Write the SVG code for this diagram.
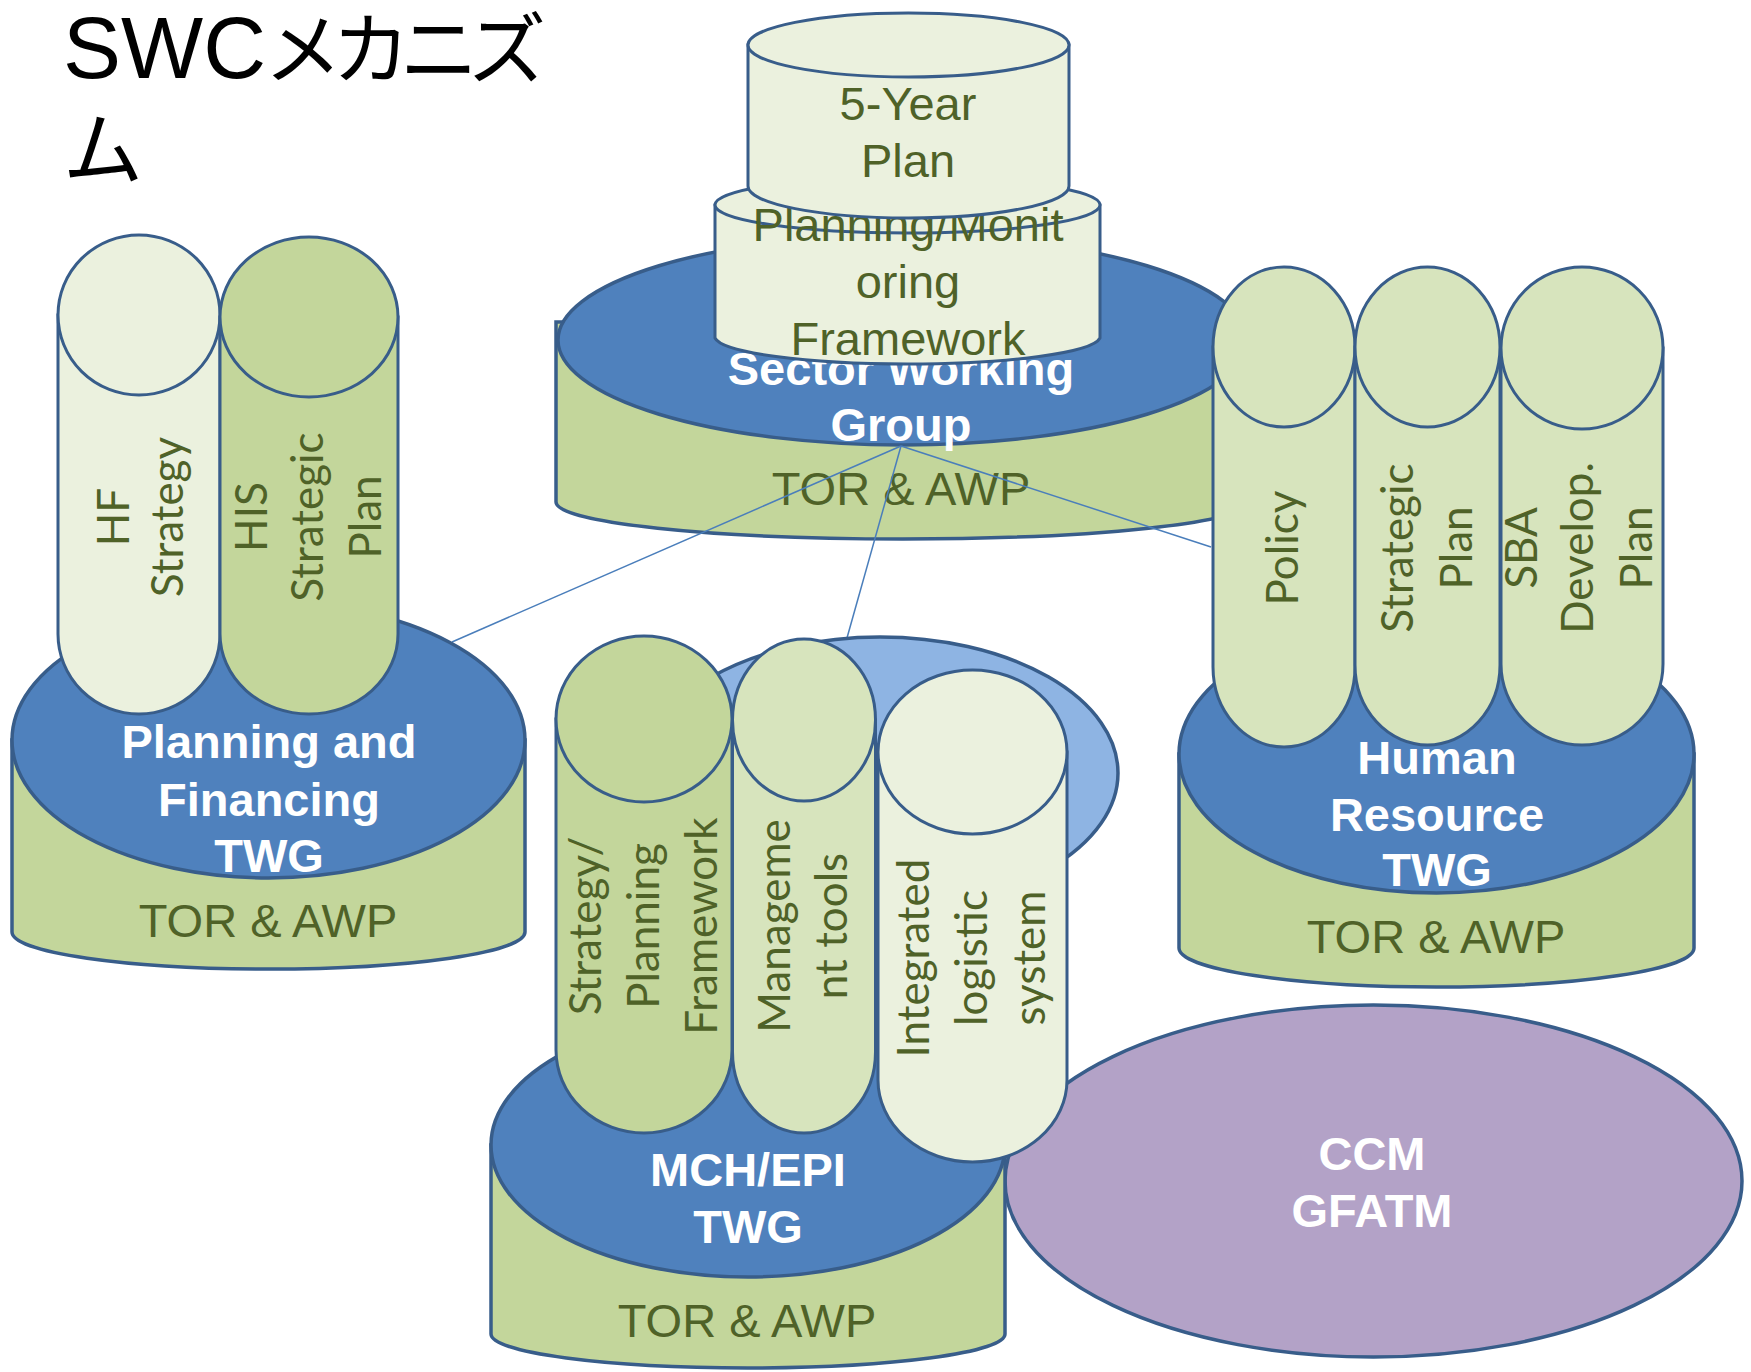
<svg xmlns="http://www.w3.org/2000/svg" width="1751" height="1372" viewBox="0 0 1751 1372">
<style>
.band{fill:#C3D69B;stroke:#385D8A;stroke-width:3.5}
.disk{fill:#4F81BD;stroke:#385D8A;stroke-width:3.5}
.pl{stroke:#385D8A;stroke-width:3}
.c1{fill:#EBF1DE}.c2{fill:#C3D69B}.c3{fill:#D7E4BD}
.wt{font-family:"Liberation Sans",Arial,sans-serif;font-weight:bold;font-size:47px;fill:#FFFFFF;text-anchor:middle}
.gt{font-family:"Liberation Sans",Arial,sans-serif;font-size:47px;fill:#4F6228;text-anchor:middle}
.vt{font-family:Lato,"Open Sans",sans-serif;font-size:44px;fill:#4F6228;text-anchor:middle}
.jp{font-family:"Noto Sans CJK JP",sans-serif;fill:#000}
.conn{stroke:#4A7EBB;stroke-width:1.5;fill:none}
</style>

<g id="title">
<text x="63" y="78" font-family="'Liberation Sans',Arial,sans-serif" font-size="87" fill="#000">SWC</text>
<text class="jp" x="264" y="78" font-size="78" letter-spacing="-10">メカニズ</text>
<text class="jp" x="63" y="178" font-size="80">ム</text>
</g>

<g id="swg">
<path class="band" d="M556,322 L556,502 A347,37 0 0 0 1250,502 L1250,322 Z"/>
<ellipse class="disk" cx="903" cy="340" rx="345" ry="105"/>
<text class="wt" x="901" y="385">Sector Working</text>
<text class="wt" x="901" y="441">Group</text>
<text class="gt" x="901" y="505">TOR &amp; AWP</text>
</g>

<g id="pm-framework">
<path class="pl c1" d="M715,205 L715,338 A193,28 0 0 0 1100,338 L1100,205 Z"/>
<ellipse class="pl c1" cx="907.5" cy="205" rx="192.5" ry="28"/>
<text class="gt" x="908" y="241">Planning/Monit</text>
<text class="gt" x="908" y="298">oring</text>
<text class="gt" x="908" y="355">Framework</text>
</g>

<g id="five-year-plan">
<path class="pl c1" d="M748,45 L748,186 A160.5,32 0 0 0 1069,186 L1069,45 Z"/>
<ellipse class="pl c1" cx="908.5" cy="45" rx="160.5" ry="32"/>
<text class="gt" x="908" y="120">5-Year</text>
<text class="gt" x="908" y="177">Plan</text>
</g>

<g id="connectors">
<line class="conn" x1="901" y1="446" x2="452" y2="642"/>
<line class="conn" x1="901" y1="446" x2="845" y2="645"/>
<line class="conn" x1="901" y1="446" x2="1211" y2="547"/>
</g>

<g id="pf-twg">
<path class="band" d="M12,740 L12,932 A256.5,37 0 0 0 525,932 L525,740 Z"/>
<ellipse class="disk" cx="268.5" cy="740" rx="256.5" ry="138"/>
<g id="hf-strategy">
<path class="pl c1" d="M58,315 L58,634 A81,80 0 0 0 220,634 L220,315 Z"/>
<ellipse class="pl c1" cx="139" cy="315" rx="81" ry="80"/>
<text class="vt" transform="translate(129,517) rotate(-90)">HF</text>
<text class="vt" transform="translate(183,517) rotate(-90)">Strategy</text>
</g>
<g id="his-plan">
<path class="pl c2" d="M220,317 L220,634 A89,80 0 0 0 398,634 L398,317 Z"/>
<ellipse class="pl c2" cx="309" cy="317" rx="89" ry="80"/>
<text class="vt" transform="translate(267,517) rotate(-90)">HIS</text>
<text class="vt" transform="translate(323,517) rotate(-90)">Strategic</text>
<text class="vt" transform="translate(381,517) rotate(-90)">Plan</text>
</g>
<text class="wt" x="269" y="758">Planning and</text>
<text class="wt" x="269" y="816">Financing</text>
<text class="wt" x="269" y="872">TWG</text>
<text class="gt" x="268" y="937">TOR &amp; AWP</text>
</g>

<g id="hr-twg">
<path class="band" d="M1179,754 L1179,948 A257.5,39 0 0 0 1694,948 L1694,754 Z"/>
<ellipse class="disk" cx="1436.5" cy="754" rx="257.5" ry="139"/>
<g id="hr-policy">
<path class="pl c3" d="M1213,347 L1213,667 A71,80 0 0 0 1355,667 L1355,347 Z"/>
<ellipse class="pl c3" cx="1284" cy="347" rx="71" ry="80"/>
<text class="vt" transform="translate(1298,548) rotate(-90)">Policy</text>
</g>
<g id="hr-strategic-plan">
<path class="pl c3" d="M1355,347 L1355,665 A72.5,80 0 0 0 1500,665 L1500,347 Z"/>
<ellipse class="pl c3" cx="1427.5" cy="347" rx="72.5" ry="80"/>
<text class="vt" transform="translate(1413,548) rotate(-90)">Strategic</text>
<text class="vt" transform="translate(1472,548) rotate(-90)">Plan</text>
</g>
<g id="hr-sba-plan">
<path class="pl c3" d="M1501,348 L1501,664 A81,81 0 0 0 1663,664 L1663,348 Z"/>
<ellipse class="pl c3" cx="1582" cy="348" rx="81" ry="81"/>
<text class="vt" transform="translate(1537,548) rotate(-90)">SBA</text>
<text class="vt" transform="translate(1593,548) rotate(-90)">Develop.</text>
<text class="vt" transform="translate(1652,548) rotate(-90)">Plan</text>
</g>
<text class="wt" x="1437" y="774">Human</text>
<text class="wt" x="1437" y="831">Resource</text>
<text class="wt" x="1437" y="886">TWG</text>
<text class="gt" x="1436" y="953">TOR &amp; AWP</text>
</g>

<g id="ccm-gfatm">
<ellipse cx="1373.5" cy="1181" rx="368.5" ry="176" fill="#B3A2C7" stroke="#385D8A" stroke-width="3.5"/>
<text class="wt" x="1372" y="1170">CCM</text>
<text class="wt" x="1372" y="1227">GFATM</text>
</g>

<g id="mch-twg">
<ellipse cx="880" cy="773" rx="238" ry="136" fill="#8EB4E3" stroke="#385D8A" stroke-width="3.5"/>
<path class="band" d="M491,1145 L491,1334 A257,34 0 0 0 1005,1334 L1005,1145 Z"/>
<ellipse class="disk" cx="748" cy="1145" rx="257" ry="132"/>
<g id="mch-strategy">
<path class="pl c2" d="M556,719 L556,1050 A88,83 0 0 0 732,1050 L732,719 Z"/>
<ellipse class="pl c2" cx="644" cy="719" rx="88" ry="83"/>
<text class="vt" transform="translate(601,926) rotate(-90)">Strategy/</text>
<text class="vt" transform="translate(659,926) rotate(-90)">Planning</text>
<text class="vt" transform="translate(717,926) rotate(-90)">Framework</text>
</g>
<g id="mch-management">
<path class="pl c3" d="M732.5,720 L732.5,1052 A71.5,81 0 0 0 875.5,1052 L875.5,720 Z"/>
<ellipse class="pl c3" cx="804" cy="720" rx="71.5" ry="81"/>
<text class="vt" transform="translate(790,926) rotate(-90)">Manageme</text>
<text class="vt" transform="translate(847,926) rotate(-90)">nt tools</text>
</g>
<g id="mch-logistic">
<path class="pl c1" d="M878,752 L878,1080 A94.5,82 0 0 0 1067,1080 L1067,752 Z"/>
<ellipse class="pl c1" cx="972.5" cy="752" rx="94.5" ry="82"/>
<text class="vt" transform="translate(929,958) rotate(-90)">Integrated</text>
<text class="vt" transform="translate(987,958) rotate(-90)">logistic</text>
<text class="vt" transform="translate(1045,958) rotate(-90)">system</text>
</g>
<text class="wt" x="748" y="1186">MCH/EPI</text>
<text class="wt" x="748" y="1243">TWG</text>
<text class="gt" x="747" y="1337">TOR &amp; AWP</text>
</g>
</svg>
